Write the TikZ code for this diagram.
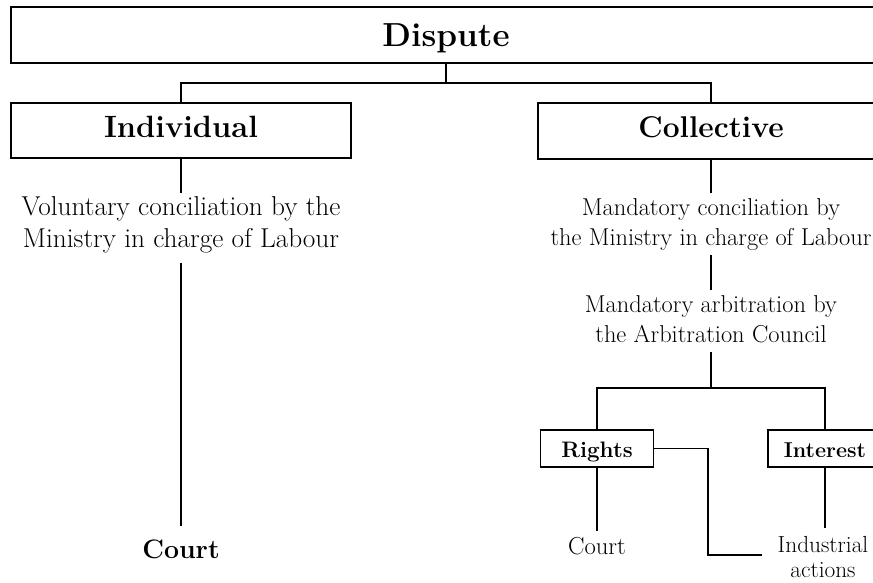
\documentclass[tikz,border=0pt]{standalone}
\usepackage{fontspec}
\begin{document}
\begin{tikzpicture}[x=1pt,y=-1pt,
  headbox/.style={draw, line width=1.7pt, inner sep=0pt},
  txt/.style={inner sep=0pt, align=center},
  wire/.style={line width=1.4pt}]
\clip (0,0) rectangle (873,582);

% top level
\node[headbox, minimum width=870pt, minimum height=56pt, text height=22.8pt, text depth=0pt,
      font=\fontsize{33.3}{40}\selectfont\bfseries] (dispute) at (446,35) {Dispute};
\node[headbox, minimum width=340pt, minimum height=55pt, text height=21.1pt, text depth=8.1pt,
      font=\fontsize{30.8}{36}\selectfont\bfseries] (indiv) at (181,130.5) {Individual};
\node[headbox, minimum width=346pt, minimum height=56pt, text height=20.6pt, text depth=7.6pt,
      font=\fontsize{30}{36}\selectfont\bfseries] (coll) at (711,131) {Collective};
\coordinate (split) at (446,83);
\draw[wire] (dispute.south) -- (split);
\draw[wire] (indiv.north) |- (split) -| (coll.north);

% individual branch
\node[txt, font=\fontsize{27.3}{32}\selectfont] (vol) at (181,225.2)
  {Voluntary conciliation by the\\Ministry in charge of Labour};
\node[txt, anchor=base, font=\fontsize{26.7}{30}\selectfont\bfseries] (court1) at (181,558) {Court};
\draw[wire, shorten >=4.1pt] (indiv.south) -- (vol.north);
\draw[wire, shorten <=9.7pt, shorten >=12.7pt] (vol.south) -- (court1.north);

% collective branch
\node[txt, font=\fontsize{24.4}{29.5}\selectfont] (mand1) at (711,224.65)
  {Mandatory conciliation by\\the Ministry in charge of Labour};
\node[txt, font=\fontsize{24.4}{29.5}\selectfont] (mand2) at (711,319.3)
  {Mandatory arbitration by\\the Arbitration Council};
\draw[wire, shorten >=6.1pt] (coll.south) -- (mand1.north);
\draw[wire, shorten <=4.8pt, shorten >=6pt] (mand1.south) -- (mand2.north);
\coordinate (fork) at (711,388);
\draw[wire, shorten <=9.5pt] (mand2.south) -- (fork);

\node[headbox, minimum width=113pt, minimum height=37pt, text height=17pt, text depth=0pt,
      font=\fontsize{22.4}{26}\selectfont\bfseries] (rights) at (597,448.5) {Rights};
\node[headbox, minimum width=114pt, minimum height=37pt, text height=17pt, text depth=0pt,
      font=\fontsize{21.5}{26}\selectfont\bfseries] (interest) at (825,448.5) {Interest};
\draw[wire] (rights.north) |- (fork) -| (interest.north);

\node[txt, anchor=base, font=\fontsize{24.6}{28}\selectfont] (court2) at (597,554) {Court};
\node[txt, font=\fontsize{23.3}{25}\selectfont] (ind) at (823,557.4) {Industrial\\actions};
\draw[wire, shorten >=5.2pt] (rights.south) -- (court2.north);
\draw[wire, shorten >=8.8pt] (interest.south) -- (interest.south |- ind.north);

\coordinate (elbow) at (708,448.5);
\coordinate (tail) at (762,555);
\draw[wire] (rights.east) -- (elbow) |- (tail);
\end{tikzpicture}
\end{document}
